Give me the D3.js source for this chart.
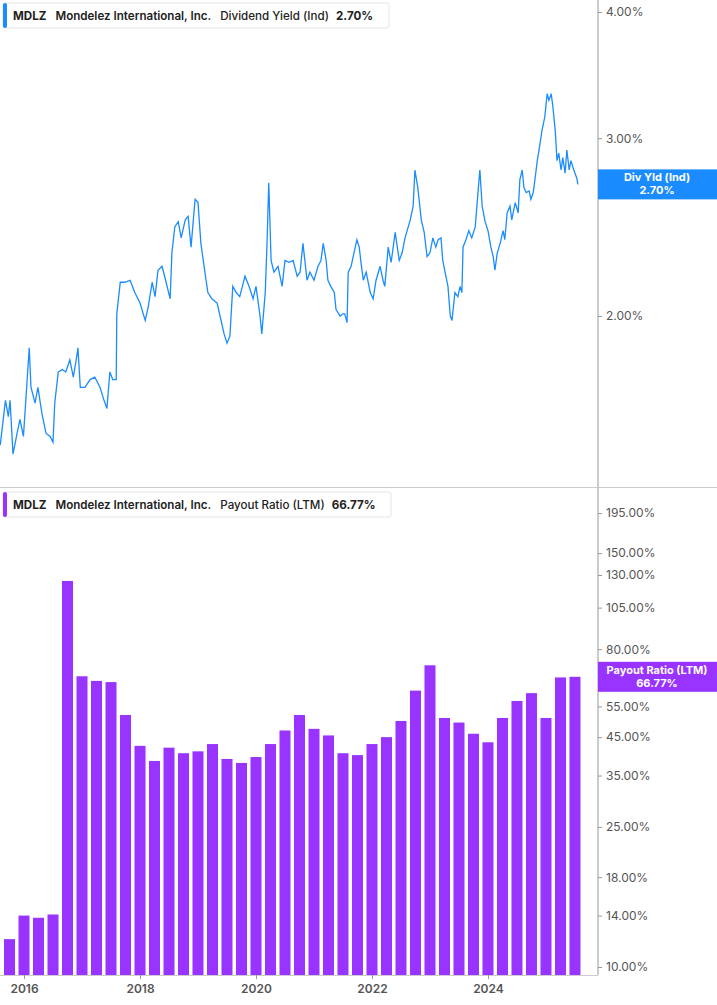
<!DOCTYPE html>
<html>
<head>
<meta charset="utf-8">
<script src="https://cdn.jsdelivr.net/npm/d3@7"></script>
<style>
  body { margin: 0; background: #fff; font-family: Inter, "Noto Sans", sans-serif; }
</style>
</head>
<body>
<svg id="chart" width="717" height="1005"></svg>
<script>
// Dividend yield (decimal year, % value)
const yieldDates = [2015.59,2015.68,2015.73,2015.76,2015.81,2015.88,2015.93,2015.99,2016.04,2016.09,2016.12,2016.19,2016.24,2016.31,2016.38,2016.45,2016.50,2016.53,2016.59,2016.66,2016.72,2016.79,2016.85,2016.90,2016.93,2016.97,2017.05,2017.14,2017.22,2017.31,2017.38,2017.43,2017.48,2017.53,2017.59,2017.60,2017.66,2017.74,2017.83,2017.91,2018.00,2018.09,2018.14,2018.21,2018.26,2018.31,2018.38,2018.45,2018.52,2018.55,2018.60,2018.66,2018.71,2018.78,2018.83,2018.88,2018.95,2019.00,2019.05,2019.10,2019.17,2019.24,2019.33,2019.38,2019.45,2019.50,2019.55,2019.60,2019.66,2019.72,2019.81,2019.88,2019.95,2020.00,2020.07,2020.10,2020.16,2020.19,2020.22,2020.26,2020.31,2020.38,2020.45,2020.50,2020.57,2020.64,2020.71,2020.76,2020.81,2020.88,2020.93,2021.00,2021.07,2021.12,2021.16,2021.21,2021.24,2021.29,2021.35,2021.38,2021.45,2021.50,2021.53,2021.57,2021.59,2021.64,2021.69,2021.74,2021.78,2021.81,2021.85,2021.90,2021.97,2022.02,2022.07,2022.14,2022.19,2022.22,2022.28,2022.33,2022.40,2022.47,2022.52,2022.57,2022.66,2022.71,2022.74,2022.79,2022.85,2022.90,2022.95,2023.00,2023.05,2023.10,2023.14,2023.19,2023.22,2023.26,2023.31,2023.35,2023.38,2023.43,2023.48,2023.52,2023.55,2023.57,2023.62,2023.67,2023.72,2023.78,2023.83,2023.86,2023.90,2023.95,2024.00,2024.05,2024.09,2024.12,2024.16,2024.21,2024.26,2024.29,2024.33,2024.38,2024.41,2024.47,2024.52,2024.55,2024.59,2024.62,2024.66,2024.71,2024.74,2024.78,2024.81,2024.85,2024.88,2024.93,2024.98,2025.02,2025.05,2025.09,2025.12,2025.16,2025.19,2025.22,2025.26,2025.29,2025.33,2025.36,2025.40,2025.43,2025.48,2025.53,2025.55];
const yieldValues = [1.49,1.65,1.59,1.65,1.46,1.53,1.58,1.52,1.68,1.86,1.70,1.64,1.70,1.60,1.53,1.52,1.50,1.64,1.76,1.77,1.76,1.81,1.74,1.81,1.86,1.70,1.70,1.73,1.74,1.70,1.65,1.62,1.76,1.73,1.73,2.01,2.16,2.16,2.17,2.11,2.06,1.98,2.04,2.16,2.09,2.22,2.24,2.16,2.08,2.31,2.45,2.48,2.39,2.49,2.51,2.34,2.61,2.59,2.36,2.25,2.11,2.08,2.06,2.00,1.92,1.88,1.91,2.14,2.11,2.09,2.19,2.14,2.08,2.14,2.00,1.92,2.11,2.36,2.71,2.27,2.21,2.24,2.14,2.27,2.26,2.27,2.19,2.21,2.36,2.17,2.21,2.17,2.24,2.27,2.36,2.27,2.17,2.14,2.11,2.03,2.00,2.01,2.01,1.97,2.21,2.24,2.31,2.38,2.34,2.26,2.17,2.21,2.11,2.08,2.17,2.24,2.17,2.14,2.34,2.26,2.42,2.27,2.31,2.39,2.49,2.57,2.79,2.68,2.49,2.42,2.29,2.31,2.39,2.34,2.38,2.39,2.27,2.21,2.14,2.00,1.98,2.11,2.09,2.14,2.11,2.34,2.38,2.43,2.39,2.45,2.66,2.79,2.57,2.48,2.43,2.34,2.29,2.22,2.31,2.36,2.43,2.38,2.53,2.57,2.49,2.59,2.53,2.73,2.79,2.68,2.65,2.66,2.61,2.65,2.73,2.85,2.92,3.05,3.15,3.32,3.27,3.32,3.22,3.05,2.85,2.90,2.79,2.87,2.77,2.92,2.79,2.85,2.79,2.74,2.70];

// Payout ratio (LTM), quarterly from late 2015
const payoutQuarters = d3.range(40).map(i => 2015.75 + i * 0.25);
const payoutValues = [12,14,13.8,14.1,125,67,65,64.5,52,42.5,38.5,42,40.5,41,43,39,38,39.5,43,47,52,47.5,45.5,40.5,40,43,45,50,61,72,51,49.5,46,43.5,51,57,60,51,66.5,66.77];

const yieldTicks = [2, 3, 4];
const payoutTicks = [10, 14, 18, 25, 35, 45, 55, 80, 105, 130, 150, 195];
const yearTicks = [2016, 2018, 2020, 2022, 2024];

const blue = "#1a8cff", purple = "#9933ff";
const svg = d3.select("#chart");
const axisX = 598;

const x = d3.scaleLinear().domain([2015.586, 2025.897]).range([0, axisX]);
const yTop = d3.scaleLog().domain([2, 4]).range([316, 12]);
const yBot = d3.scaleLog().domain([10, 195]).range([967, 513]);

// frame lines
svg.append("line").attr("x1", axisX).attr("x2", axisX).attr("y1", 0).attr("y2", 975).attr("stroke", "#999");
svg.append("line").attr("x1", 0).attr("x2", 717).attr("y1", 487.5).attr("y2", 487.5).attr("stroke", "#ccc");
svg.append("line").attr("x1", 0).attr("x2", axisX).attr("y1", 975.5).attr("y2", 975.5).attr("stroke", "#ccc");

// line
const yieldData = yieldDates.map((d, i) => [d, yieldValues[i]]);
svg.append("path")
  .datum(yieldData)
  .attr("fill", "none").attr("stroke", blue).attr("stroke-width", 1.3)
  .attr("d", d3.line().x(d => x(d[0])).y(d => yTop(d[1])));

// bars
const bw = 11;
svg.selectAll(".bar").data(payoutValues).join("rect")
  .attr("class", "bar")
  .attr("x", (d, i) => x(payoutQuarters[i]) - bw / 2)
  .attr("width", bw)
  .attr("y", d => yBot(d))
  .attr("height", d => 975 - yBot(d))
  .attr("fill", purple);

// right axes
const axisTop = d3.axisRight(yTop).tickValues(yieldTicks).tickSize(4).tickFormat(d => d.toFixed(2) + "%");
const axisBot = d3.axisRight(yBot).tickValues(payoutTicks).tickSize(4).tickFormat(d => d.toFixed(2) + "%");
[axisTop, axisBot].forEach(ax => {
  const g = svg.append("g").attr("transform", `translate(${axisX},0)`).call(ax);
  g.select(".domain").remove();
  g.selectAll("line").attr("stroke", "#999");
  g.selectAll("text").attr("x", 8).attr("fill", "#555").style("font-size", "12px").style("font-family", "Inter, sans-serif");
});

// bottom axis
const gx = svg.append("g").attr("transform", "translate(0,975)")
  .call(d3.axisBottom(x).tickValues(yearTicks).tickSize(4).tickFormat(d3.format("d")));
gx.select(".domain").remove();
gx.selectAll("line").attr("stroke", "#999");
gx.selectAll("text").attr("y", 9).attr("fill", "#555").style("font-size", "12px").style("font-weight", "600").style("font-family", "Inter, sans-serif");

// legends
function legend(y, color, label, value, w) {
  const g = svg.append("g").attr("transform", `translate(3,${y})`);
  g.append("rect").attr("width", w).attr("height", 25).attr("fill", "#fff").attr("stroke", "#e4e4e4").attr("rx", 2);
  g.append("rect").attr("width", 4).attr("height", 25).attr("rx", 2).attr("fill", color);
  const t = g.append("text").attr("x", 10).attr("y", 17).style("font-size", "11.6px").attr("fill", "#222");
  t.append("tspan").style("font-weight", "700").text("MDLZ");
  t.append("tspan").attr("dx", 9).style("font-weight", "600").text("Mondelez International, Inc.");
  t.append("tspan").attr("dx", 9).style("font-weight", "500").text(label);
  t.append("tspan").attr("dx", 7).style("font-weight", "700").text(value);
}
legend(3, blue, "Dividend Yield (Ind)", "2.70%", 386);
legend(492, purple, "Payout Ratio (LTM)", "66.77%", 388);

// value tags
function tag(yc, color, l1, l2) {
  const g = svg.append("g").attr("transform", `translate(${axisX},${yc - 15})`);
  g.append("rect").attr("width", 119).attr("height", 30).attr("fill", color);
  g.append("text").attr("x", 59).attr("y", 12).attr("text-anchor", "middle").attr("fill", "#fff")
    .style("font-size", "11px").style("font-weight", "700").text(l1);
  g.append("text").attr("x", 59).attr("y", 25).attr("text-anchor", "middle").attr("fill", "#fff")
    .style("font-size", "11px").style("font-weight", "700").text(l2);
}
tag(yTop(2.70), blue, "Div Yld (Ind)", "2.70%");
tag(yBot(66.77), purple, "Payout Ratio (LTM)", "66.77%");
</script>
</body>
</html>
